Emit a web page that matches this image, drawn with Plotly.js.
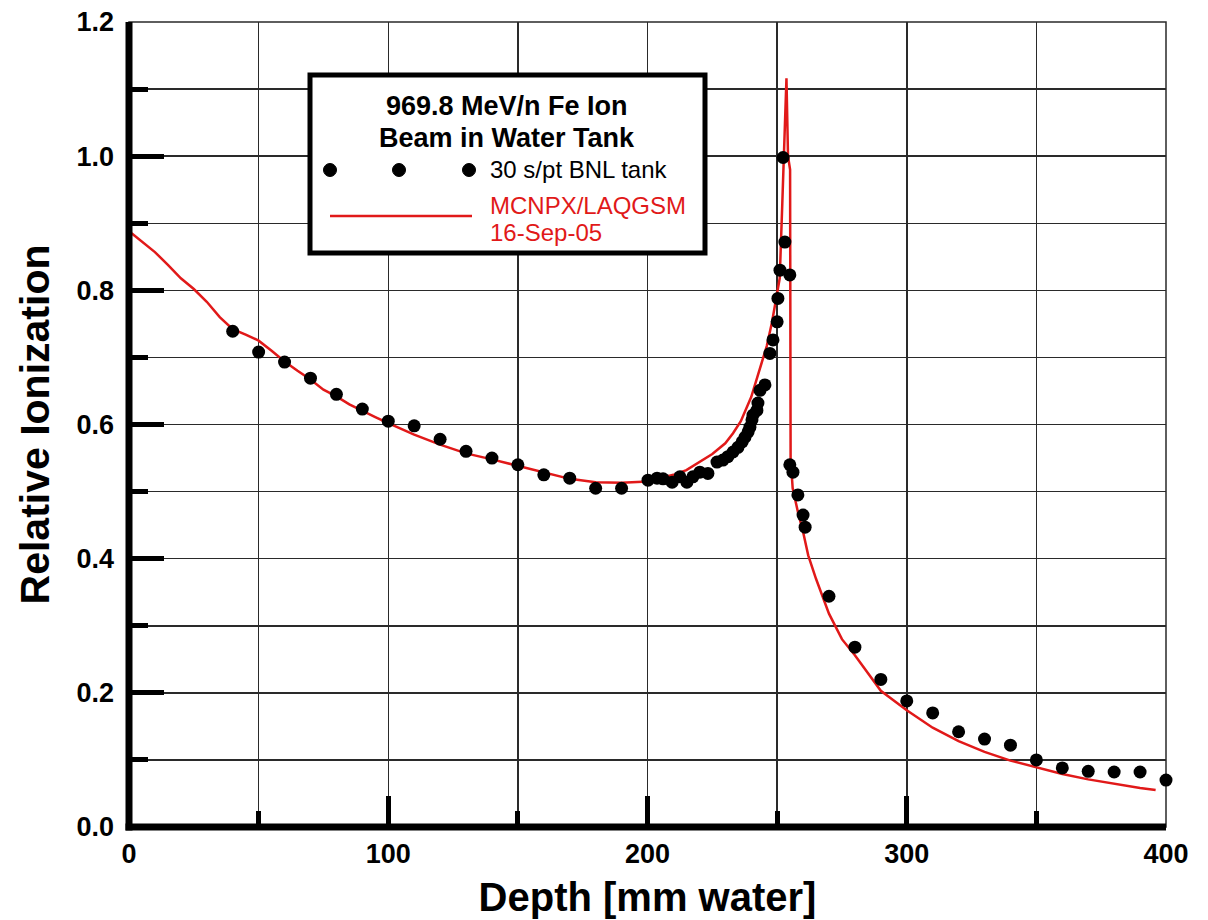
<!DOCTYPE html>
<html><head><meta charset="utf-8">
<script src="https://cdn.plot.ly/plotly-3.0.1.min.js"></script>
<style>html,body{margin:0;padding:0;background:#fff}#chart{width:1208px;height:920px}</style>
</head><body><div id="chart"></div>
<script>
// Measured data (30 s/pt BNL tank)
const dataDepth = [40,50,60,70,80,90,100,110,120,130,140,150,160,170,180,190,
  200.2,203.7,206,209.5,212.5,215.2,217.5,220.2,223.3,226.8,229.1,231,233,234.9,236.5,237.6,238.8,239.5,240.3,240.7,242.2,242.6,243.4,245.3,247.2,248.4,250,250.3,251.1,253,252.3,254.9,
  254.9,256.1,258,260,260.8,
  270,280,290,300,310,320,330,340,350,360,370,380,390,400];
const dataIon = [0.739,0.708,0.693,0.669,0.645,0.623,0.605,0.598,0.578,0.560,0.550,0.540,0.525,0.520,0.505,0.505,
  0.517,0.520,0.519,0.514,0.522,0.514,0.522,0.529,0.527,0.544,0.547,0.552,0.559,0.566,0.574,0.581,0.589,0.596,0.607,0.614,0.621,0.632,0.651,0.659,0.706,0.726,0.753,0.788,0.830,0.872,0.998,0.823,
  0.540,0.529,0.495,0.465,0.447,
  0.344,0.268,0.220,0.188,0.170,0.142,0.131,0.122,0.100,0.088,0.083,0.082,0.082,0.070];

// MCNPX/LAQGSM calculation
const calcDepth = [1,5,10,15,20,25,30,35,40,45,50,55,60,65,70,75,80,85,90,95,100,110,120,130,140,150,160,170,180,190,200,205,210,215,220,225,230,233,236,238,240,242,244,246,248,250,251,252,253,253.6,254.2,255,255.2,256,258,260,262,265,270,275,280,285,290,300,310,320,330,340,350,360,370,380,390,396];
const calcIon = [0.885,0.872,0.857,0.838,0.818,0.802,0.783,0.760,0.742,0.734,0.725,0.710,0.694,0.680,0.667,0.652,0.642,0.630,0.620,0.611,0.602,0.585,0.570,0.557,0.548,0.538,0.528,0.519,0.514,0.513,0.515,0.520,0.525,0.532,0.544,0.556,0.572,0.587,0.605,0.622,0.641,0.666,0.690,0.717,0.752,0.795,0.818,0.930,1.040,1.116,1.000,0.980,0.550,0.505,0.470,0.440,0.405,0.370,0.318,0.280,0.256,0.230,0.203,0.174,0.148,0.128,0.112,0.099,0.089,0.079,0.071,0.064,0.058,0.055];

const xTicks = [0,100,200,300,400];
const yTicks = [0.0,0.2,0.4,0.6,0.8,1.0,1.2];

const RED = 'rgb(225,25,25)';
const FONT = 'Liberation Sans, Arial, sans-serif';
const PL = 129, PR = 1166, PT = 22, PB = 827;
const px2x = px => (px - PL) / (PR - PL);
const px2y = py => (PB - py) / (PB - PT);

const traces = [
  {x: calcDepth, y: calcIon, mode:'lines', line:{color:RED, width:2.5}, name:'MCNPX/LAQGSM', cliponaxis:false},
  {x: dataDepth, y: dataIon, mode:'markers', marker:{color:'black', size:13, symbol:'circle'}, name:'30 s/pt BNL tank', cliponaxis:false}
];

const gridCol = '#2a2a2a';
const layout = {
  width:1208, height:920,
  margin:{l:PL, r:1208-PR, t:PT, b:920-PB},
  paper_bgcolor:'white', plot_bgcolor:'white',
  showlegend:false,
  font:{family:FONT, color:'black'},
  xaxis:{
    range:[0,400], tickvals:xTicks, ticktext:xTicks.map(String),
    showgrid:true, gridcolor:gridCol, gridwidth:1.5,
    showline:false,
    ticks:'inside', ticklen:31, tickwidth:5, tickcolor:'black',
    minor:{dtick:50, tick0:0, ticks:'inside', ticklen:16, tickwidth:5, tickcolor:'black', showgrid:true, gridcolor:gridCol, gridwidth:1.5},
    tickfont:{size:27, family:FONT, weight:'bold'},
    ticklabelstandoff:8,
    zeroline:false,
    title:{text:'Depth [mm water]', font:{size:40, family:FONT, weight:'bold'}, standoff:14}
  },
  yaxis:{
    range:[0,1.2], tickvals:yTicks, ticktext:yTicks.map(v=>v.toFixed(1)),
    showgrid:true, gridcolor:gridCol, gridwidth:1.5,
    showline:false,
    ticks:'inside', ticklen:35, tickwidth:5, tickcolor:'black',
    minor:{dtick:0.1, tick0:0, ticks:'inside', ticklen:19, tickwidth:5, tickcolor:'black', showgrid:true, gridcolor:gridCol, gridwidth:1.5},
    tickfont:{size:27, family:FONT, weight:'bold'},
    ticklabelstandoff:14,
    zeroline:false,
    title:{text:'Relative Ionization', font:{size:41, family:FONT, weight:'bold'}, standoff:14}
  },
  shapes:[
    {type:'rect', xref:'paper', yref:'paper', x0:0, x1:1, y0:0, y1:1, line:{color:gridCol, width:1.5}, layer:'below'},
    {type:'rect', xref:'paper', yref:'paper', x0:px2x(125.5), x1:px2x(132.5), y0:px2y(830.5), y1:1, fillcolor:'black', line:{width:0}, layer:'above'},
    {type:'rect', xref:'paper', yref:'paper', x0:px2x(125.5), x1:1, y0:px2y(830.5), y1:px2y(823.5), fillcolor:'black', line:{width:0}, layer:'above'},
    {type:'rect', xref:'paper', yref:'paper', x0:px2x(310), x1:px2x(705), y0:px2y(253), y1:px2y(75), fillcolor:'white', line:{color:'black', width:5}, layer:'above'},
    {type:'line', xref:'paper', yref:'paper', x0:px2x(330), x1:px2x(472), y0:px2y(216), y1:px2y(216), line:{color:RED, width:2.5}},
    ...[330,399,469].map(px=>({type:'circle', xref:'paper', yref:'paper', x0:px2x(px-6.5), x1:px2x(px+6.5), y0:px2y(170+6.5), y1:px2y(170-6.5), fillcolor:'black', line:{color:'black', width:1}}))
  ],
  annotations:[
    {xref:'paper', yref:'paper', x:px2x(507), y:px2y(106), text:'969.8 MeV/n Fe Ion', showarrow:false, font:{size:27, family:FONT, weight:'bold', color:'black'}, xanchor:'center', yanchor:'middle'},
    {xref:'paper', yref:'paper', x:px2x(507), y:px2y(138), text:'Beam in Water Tank', showarrow:false, font:{size:27, family:FONT, weight:'bold', color:'black'}, xanchor:'center', yanchor:'middle'},
    {xref:'paper', yref:'paper', x:px2x(488), y:px2y(170), text:'30 s/pt BNL tank', showarrow:false, font:{size:24, family:FONT, color:'black'}, xanchor:'left', yanchor:'middle'},
    {xref:'paper', yref:'paper', x:px2x(488), y:px2y(205), text:'MCNPX/LAQGSM', showarrow:false, font:{size:24, family:FONT, color:RED}, xanchor:'left', yanchor:'middle'},
    {xref:'paper', yref:'paper', x:px2x(488), y:px2y(233), text:'16-Sep-05', showarrow:false, font:{size:24, family:FONT, color:RED}, xanchor:'left', yanchor:'middle'}
  ]
};
Plotly.newPlot('chart', traces, layout, {staticPlot:true});
</script></body></html>
